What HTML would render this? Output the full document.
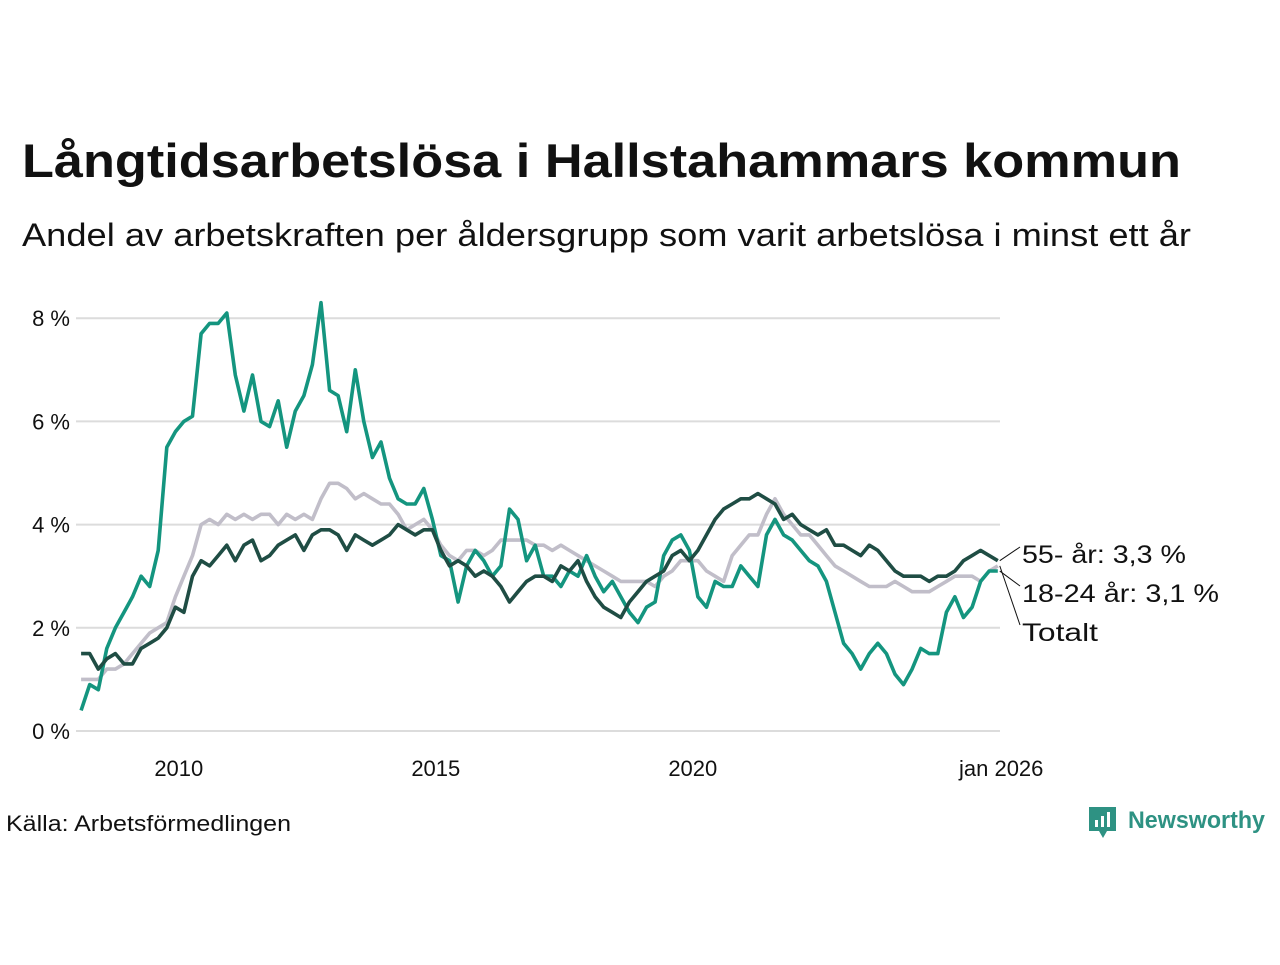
<!DOCTYPE html>
<html><head><meta charset="utf-8"><style>
body{margin:0;width:1280px;height:960px;background:#fff;font-family:"Liberation Sans",sans-serif;overflow:hidden}
svg text{font-family:"Liberation Sans",sans-serif}
</style></head><body>
<svg width="1280" height="960" id="c">
<text x="22" y="177" font-size="47" font-weight="bold" fill="#111" textLength="1159" lengthAdjust="spacingAndGlyphs">Långtidsarbetslösa i Hallstahammars kommun</text>
<text x="22" y="246" font-size="32" fill="#111" textLength="1169" lengthAdjust="spacingAndGlyphs">Andel av arbetskraften per åldersgrupp som varit arbetslösa i minst ett år</text>
<g id="grid"></g><g id="lines"></g><g id="labels"></g>
<text x="6" y="831" font-size="22" fill="#111" textLength="285" lengthAdjust="spacingAndGlyphs">Källa: Arbetsförmedlingen</text>
<g>
<path d="M1089 807h27v24h-9l-4 7-4-7h-10z" fill="#2e9283"/>
<rect x="1095" y="820" width="3" height="7" fill="#fff"/><rect x="1101" y="816" width="3" height="11" fill="#fff"/><rect x="1107" y="812" width="3" height="15" fill="#fff"/>
<text x="1128" y="828" font-size="24" font-weight="bold" fill="#2e9283" textLength="137" lengthAdjust="spacingAndGlyphs">Newsworthy</text>
</g>
</svg>
<script>
const yTicks=[0,2,4,6,8];
const xTickYears=[2010,2015,2020,2026];
const xTickLabels=["2010","2015","2020","jan 2026"];
const startYear=2008.1;
const young=[0.4,0.9,0.8,1.6,2.0,2.3,2.6,3.0,2.8,3.5,5.5,5.8,6.0,6.1,7.7,7.9,7.9,8.1,6.9,6.2,6.9,6.0,5.9,6.4,5.5,6.2,6.5,7.1,8.3,6.6,6.5,5.8,7.0,6.0,5.3,5.6,4.9,4.5,4.4,4.4,4.7,4.1,3.4,3.3,2.5,3.2,3.5,3.3,3.0,3.2,4.3,4.1,3.3,3.6,3.0,3.0,2.8,3.1,3.0,3.4,3.0,2.7,2.9,2.6,2.3,2.1,2.4,2.5,3.4,3.7,3.8,3.5,2.6,2.4,2.9,2.8,2.8,3.2,3.0,2.8,3.8,4.1,3.8,3.7,3.5,3.3,3.2,2.9,2.3,1.7,1.5,1.2,1.5,1.7,1.5,1.1,0.9,1.2,1.6,1.5,1.5,2.3,2.6,2.2,2.4,2.9,3.1,3.1];
const total=[1.0,1.0,1.0,1.2,1.2,1.3,1.5,1.7,1.9,2.0,2.1,2.6,3.0,3.4,4.0,4.1,4.0,4.2,4.1,4.2,4.1,4.2,4.2,4.0,4.2,4.1,4.2,4.1,4.5,4.8,4.8,4.7,4.5,4.6,4.5,4.4,4.4,4.2,3.9,4.0,4.1,3.9,3.6,3.4,3.3,3.5,3.5,3.4,3.5,3.7,3.7,3.7,3.7,3.6,3.6,3.5,3.6,3.5,3.4,3.3,3.2,3.1,3.0,2.9,2.9,2.9,2.9,2.8,3.0,3.1,3.3,3.3,3.3,3.1,3.0,2.9,3.4,3.6,3.8,3.8,4.2,4.5,4.2,4.0,3.8,3.8,3.6,3.4,3.2,3.1,3.0,2.9,2.8,2.8,2.8,2.9,2.8,2.7,2.7,2.7,2.8,2.9,3.0,3.0,3.0,2.9,3.1,3.2];
const older=[1.5,1.5,1.2,1.4,1.5,1.3,1.3,1.6,1.7,1.8,2.0,2.4,2.3,3.0,3.3,3.2,3.4,3.6,3.3,3.6,3.7,3.3,3.4,3.6,3.7,3.8,3.5,3.8,3.9,3.9,3.8,3.5,3.8,3.7,3.6,3.7,3.8,4.0,3.9,3.8,3.9,3.9,3.5,3.2,3.3,3.2,3.0,3.1,3.0,2.8,2.5,2.7,2.9,3.0,3.0,2.9,3.2,3.1,3.3,2.9,2.6,2.4,2.3,2.2,2.5,2.7,2.9,3.0,3.1,3.4,3.5,3.3,3.5,3.8,4.1,4.3,4.4,4.5,4.5,4.6,4.5,4.4,4.1,4.2,4.0,3.9,3.8,3.9,3.6,3.6,3.5,3.4,3.6,3.5,3.3,3.1,3.0,3.0,3.0,2.9,3.0,3.0,3.1,3.3,3.4,3.5,3.4,3.3];
const NS="http://www.w3.org/2000/svg";
const X=yr=>76+(yr-2008)*51.4;
const Y=v=>731-v*51.6;
function el(t,a,p){const e=document.createElementNS(NS,t);for(const k in a)e.setAttribute(k,a[k]);document.getElementById(p).appendChild(e);return e;}
yTicks.forEach(v=>{
 const l=el('line',{x1:76,x2:1000,y1:Y(v),y2:Y(v),stroke:'#dcdcdc','stroke-width':2},'grid');
 
 
 const t=el('text',{x:70,y:Y(v)+8,'font-size':22,'text-anchor':'end',fill:'#111'},'grid');
 t.textContent=v+' %';
 
 
});
xTickYears.forEach((yr,i)=>{
 const t=el('text',{x:X(yr),y:776,'font-size':22,'text-anchor':'middle',fill:'#111'},'grid');
 t.textContent=xTickLabels[i];
 
 
});
function draw(arr,color,name){
 const d=arr.map((v,i)=>(i?'L':'M')+X(startYear+i/6).toFixed(1)+' '+Y(v).toFixed(1)).join('');
 const p=el('path',{d:d,fill:'none',stroke:color,'stroke-width':3.6,'stroke-linejoin':'round'},'lines');
 
 
}
draw(total,'#c1bec9','line-totalt');
draw(young,'#14957f','line-18-24');
draw(older,'#1f4d44','line-55-plus');
const endX=X(startYear+(older.length-1)/6);
const labs=[["55- år: 3,3 %",older,555,'label-55-plus',164],["18-24 år: 3,1 %",young,594,'label-18-24',197],["Totalt",total,633,'label-totalt',76]];
labs.forEach(([txt,arr,ly,nm,w])=>{
 const v=arr[arr.length-1];
 const ln=el('line',{x1:endX+2,y1:Y(v),x2:1020,y2:ly-8,stroke:'#111','stroke-width':1},'labels');
 
 
 const t=el('text',{x:1022,y:ly+8,'font-size':25,fill:'#111',textLength:w,lengthAdjust:'spacingAndGlyphs'},'labels');
 t.textContent=txt;
 
 
});
</script>
</body></html>
